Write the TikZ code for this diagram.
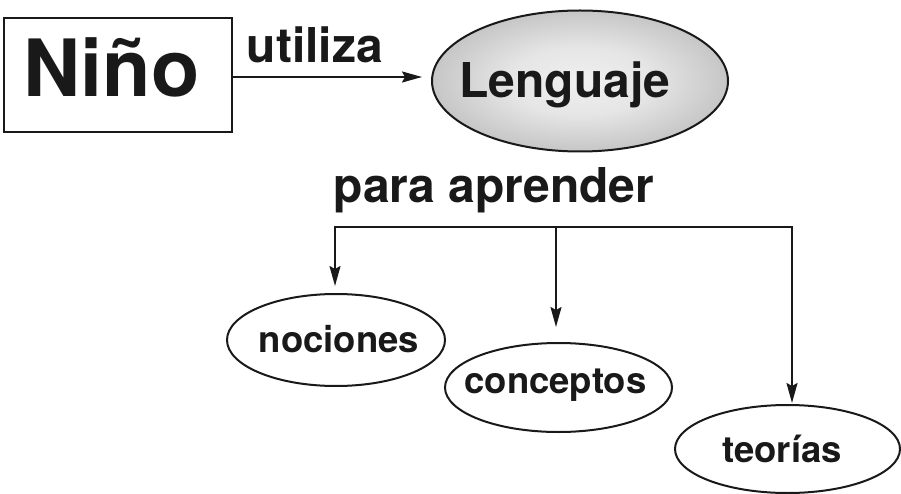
\documentclass[tikz,border=0pt]{standalone}
\usepackage{fontspec}
\setmainfont{TeX Gyre Heros}
\usetikzlibrary{arrows.meta,shapes.geometric}
\pgfdeclareradialshading{lensshade}{\pgfpoint{0bp}{0bp}}{color(0bp)=(black!6); color(12bp)=(black!10); color(50bp)=(black!46)}
\tikzset{
  conn/.style={line width=2pt, draw=black!90},
  tip/.style={-{Stealth[length=20pt,width=11pt,inset=3pt]}},
  bothtip/.style={{Stealth[length=20pt,width=11pt,inset=3pt]}-{Stealth[length=20pt,width=11pt,inset=3pt]}},
  oval/.style={ellipse, draw=black!90, line width=2pt, inner sep=0pt},
  txt/.style={inner sep=0pt, anchor=base, text=black!90},
  big/.style={font=\bfseries\fontsize{79}{79}\selectfont},
  mid/.style={font=\bfseries\fontsize{48}{48}\selectfont},
  small/.style={font=\bfseries\fontsize{36.5}{36.5}\selectfont},
}
\begin{document}
\begin{tikzpicture}[x=1pt,y=-1pt]
\useasboundingbox (0,0) rectangle (901,494);
% Nino box
\node[draw=black!90, line width=2.2pt, minimum width=228pt, minimum height=114pt, inner sep=0pt] (nino) at (118,75) {};
\node[txt, big] (ninoT) at (111.5,97) {Niño};
% Lenguaje ellipse
\node[oval, minimum width=296pt, minimum height=141pt, shading=lensshade] (lenguaje) at (580,81) {};
\node[txt, mid] (lenguajeT) at (565,98) {Lenguaje};
% utiliza
\node[txt, mid] (utiliza) at (315,63) {utiliza};
\draw[conn, tip, shorten >=9pt] ([yshift=-2pt]nino.east) -- ([yshift=-2pt]lenguaje.west |- nino.east);
% para aprender
\node[txt, mid] (para) at (494,203) {para aprender};
% lower ellipses
\node[oval, minimum width=218pt, minimum height=92pt] (nociones) at (336,340) {};
\node[txt, small] (nocionesT) at (339,352) {nociones};
\node[oval, minimum width=227pt, minimum height=89pt] (conceptos) at (558.5,387.5) {};
\node[txt, small] (conceptosT) at (555.5,393) {conceptos};
\node[oval, minimum width=225pt, minimum height=88pt] (teorias) at (787.5,449) {};
\node[txt, small] (teoriasT) at (782,462) {teorías};
% tree connectors
\coordinate (jl) at (335,227);
\coordinate (jm) at (556,227);
\coordinate (jr) at (792,227);
\draw[conn, bothtip, shorten <=7pt, shorten >=1pt, line join=miter] (jl |- nociones.north) -- (jl) -- (jr) -- (jr |- teorias.north);
\draw[conn, tip, shorten >=15pt] (jm) -- (jm |- conceptos.north);
\end{tikzpicture}
\end{document}
